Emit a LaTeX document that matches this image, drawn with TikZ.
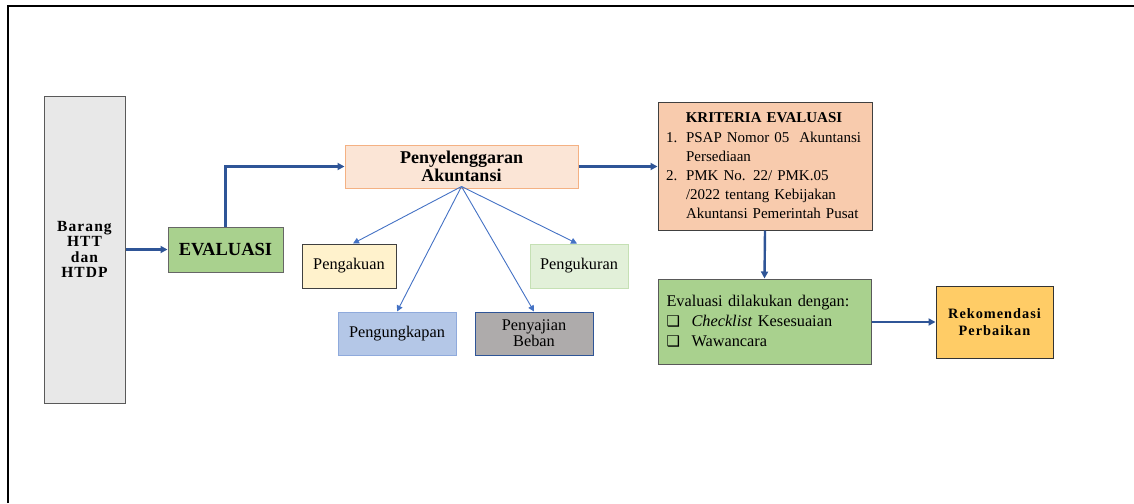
\documentclass[tikz,border=0pt]{standalone}
\usepackage{fontspec}
\setmainfont{Liberation Serif}
\newfontfamily\spacedbf[LetterSpace=7]{Liberation Serif}
\newfontfamily\dejavu{DejaVu Sans}
\usetikzlibrary{arrows.meta}
\definecolor{arrowblue}{HTML}{2F5597}
\definecolor{thinblue}{HTML}{4472C4}
\newcommand\cbx{\makebox[25pt][l]{\dejavu\fontsize{15}{20}\selectfont ❑}}
\tikzset{
  box/.style={draw, line width=1pt, inner sep=0pt, align=center},
  thick arrow/.style={draw=arrowblue, line width=2.4pt, -{Triangle[length=7pt,width=7pt]}},
  thin arrow/.style={draw=thinblue, line width=0.9pt, -{Triangle[length=6pt,width=6pt]}},
}
\begin{document}
\begin{tikzpicture}[x=1pt,y=-1pt]
\useasboundingbox (0,0) rectangle (1134,503);
% frame
\draw[line width=1.6pt] (8,503) -- (8,6) -- (1134,6);

\node[box, draw=black!65, fill=black!9, minimum width=81pt, minimum height=307pt,
  font=\fontsize{15.5}{15.4}\selectfont\spacedbf\bfseries] (barang) at (84.5,249.5)
  {Barang\\HTT\\dan\\HTDP};
\node[box, draw=black!60, fill={rgb,255:red,169;green,209;blue,142}, minimum width=115pt, minimum height=45pt,
  font=\fontsize{18.5}{20}\selectfont\bfseries] (eval) at (225.5,249.5)
  {EVALUASI};
\node[box, draw={rgb,255:red,244;green,177;blue,131}, fill={rgb,255:red,251;green,229;blue,214}, minimum width=233pt, minimum height=43pt,
  font=\fontsize{18}{17.5}\selectfont\bfseries] (peny) at (461.5,166.5)
  {Penyelenggaran\\Akuntansi};
\node[box, draw=black!75, fill={rgb,255:red,255;green,242;blue,204}, minimum width=94pt, minimum height=44pt,
  font=\fontsize{16.3}{18}\selectfont] (akui) at (349,266)
  {Pengakuan};
\node[box, draw={rgb,255:red,197;green,224;blue,180}, fill={rgb,255:red,226;green,240;blue,217}, minimum width=98pt, minimum height=44pt,
  font=\fontsize{16.3}{18}\selectfont] (ukur) at (579,266)
  {Pengukuran};
\node[box, draw={rgb,255:red,143;green,170;blue,220}, fill={rgb,255:red,180;green,199;blue,231}, minimum width=118pt, minimum height=43pt,
  font=\fontsize{16.3}{18}\selectfont] (ungkap) at (397,333.5)
  {Pengungkapan};
\node[box, draw=arrowblue, fill={rgb,255:red,174;green,171;blue,171}, minimum width=118pt, minimum height=43pt,
  font=\fontsize{16.3}{16}\selectfont] (saji) at (534,333.5)
  {Penyajian\\Beban};
\node[box, draw=black!75, fill={rgb,255:red,248;green,203;blue,173}, minimum width=214pt, minimum height=128pt, text width=198pt, align=left,
  font=\fontsize{15}{19.2}\selectfont] (krit) at (765,166)
  {\makebox[196pt][c]{\bfseries KRITERIA EVALUASI}\\
   \makebox[20pt][l]{1.}PSAP Nomor 05~~Akuntansi\\
   \hspace*{20pt}Persediaan\\
   \makebox[20pt][l]{2.}PMK No. 22/ PMK.05\\
   \hspace*{20pt}/2022 tentang Kebijakan\\
   \hspace*{20pt}Akuntansi Pemerintah Pusat};
\node[box, draw=black!65, fill={rgb,255:red,169;green,209;blue,142}, minimum width=213pt, minimum height=85pt, text width=196pt, align=left,
  font=\fontsize{16.3}{20}\selectfont] (evald) at (764.5,321.5)
  {Evaluasi dilakukan dengan:\\
   \cbx\textit{Checklist} Kesesuaian\\
   \cbx Wawancara};
\node[box, draw=black!80, fill={rgb,255:red,255;green,204;blue,102}, minimum width=117pt, minimum height=72pt,
  font=\fontsize{14.3}{17}\selectfont\spacedbf\bfseries] (rekom) at (994.5,322)
  {Rekomendasi\\Perbaikan};

% connectors
\draw[thick arrow] (barang.east) -- (eval.west);
\draw[thick arrow] (eval.north) |- (peny.west);
\draw[thick arrow] (peny.east) -- (krit.west |- peny.east);
\draw[thick arrow] (krit.south) -- (evald.north);
\draw[thick arrow] (evald.east |- rekom.west) -- (rekom.west);

\coordinate (hub) at ([yshift=2pt]peny.south);
\draw[thin arrow] (hub) -- ([xshift=4pt]akui.north);
\draw[thin arrow] (hub) -- (ungkap.north);
\draw[thin arrow] (hub) -- (saji.north);
\draw[thin arrow] (hub) -- ([xshift=-2pt]ukur.north);
\end{tikzpicture}
\end{document}
